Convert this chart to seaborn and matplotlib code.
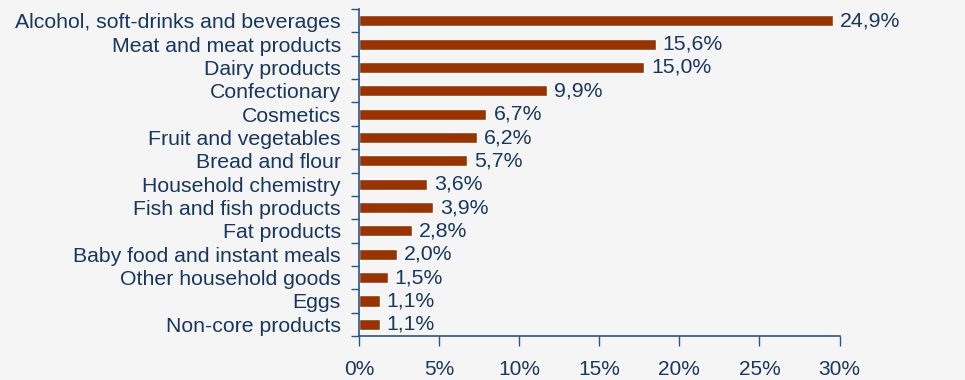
import matplotlib
matplotlib.use("Agg")
import matplotlib.pyplot as plt
import seaborn as sns
import pandas as pd
from matplotlib.ticker import FixedLocator, PercentFormatter, NullLocator

categories = [
    "Alcohol, soft-drinks and beverages",
    "Meat and meat products",
    "Dairy products",
    "Confectionary",
    "Cosmetics",
    "Fruit and vegetables",
    "Bread and flour",
    "Household chemistry",
    "Fish and fish products",
    "Fat products",
    "Baby food and instant meals",
    "Other household goods",
    "Eggs",
    "Non-core products",
]
shares = [24.9, 15.6, 15.0, 9.9, 6.7, 6.2, 5.7, 3.6, 3.9, 2.8, 2.0, 1.5, 1.1, 1.1]
x_ticks = [0, 5, 10, 15, 20, 25, 30]

df = pd.DataFrame({"category": categories, "share": shares})

sns.set_style("white")
plt.rcParams["font.family"] = ["Liberation Sans", "DejaVu Sans"]

text_color = "#17375E"
axis_color = "#2B5486"
bar_color = "#993300"
bg = "#F5F5F6"

fig = plt.figure(figsize=(9.65, 3.8), dpi=100, facecolor=bg)
ax = fig.add_axes([0.372, 0.116, 0.498, 0.860])
ax.set_facecolor(bg)

sns.barplot(data=df, y="category", x="share", orient="h", color=bar_color,
            width=0.48, saturation=1, ax=ax)

# bars are drawn on their own scale (as in the reference picture)
ax.set_xlim(0, 25.25)
ax.set_ylim(len(categories) - 0.5, -0.5)
ax.set_xlabel("")
ax.set_ylabel("")
ax.xaxis.set_major_locator(NullLocator())

ax.tick_params(axis="y", which="major", length=0, labelsize=15.3,
               labelcolor=text_color, pad=13, left=True)
ax.yaxis.set_minor_locator(FixedLocator([i - 0.5 for i in range(len(categories) + 1)]))
ax.tick_params(axis="y", which="minor", direction="out", length=6, width=1,
               color=axis_color, left=True)

for s in ["top", "right"]:
    ax.spines[s].set_visible(False)
for s in ["left", "bottom"]:
    ax.spines[s].set_color(axis_color)
    ax.spines[s].set_linewidth(1.2)

labels = [f"{v:.1f}%".replace(".", ",") for v in shares]
ax.bar_label(ax.containers[0], labels=labels, padding=5, fontsize=15.3,
             color=text_color)

# percentage axis shown at the bottom
ax2 = ax.twiny()
ax2.set_xlim(0, 30)
ax2.xaxis.set_ticks_position("bottom")
ax2.xaxis.set_label_position("bottom")
ax2.xaxis.set_major_locator(FixedLocator(x_ticks))
ax2.xaxis.set_major_formatter(PercentFormatter(decimals=0))
ax2.tick_params(axis="x", direction="out", length=7, width=1, color=axis_color,
                labelsize=15, labelcolor=text_color, pad=10,
                bottom=True, top=False)
for s in ax2.spines.values():
    s.set_visible(False)

fig.savefig("out.png", dpi=100, facecolor=bg)
